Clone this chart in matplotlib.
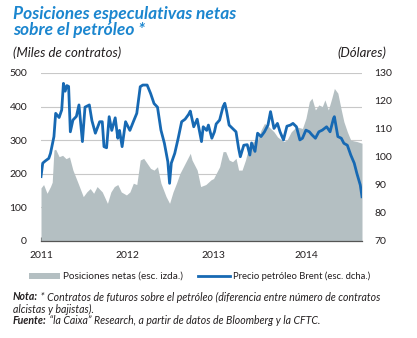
import matplotlib
matplotlib.use("Agg")
import matplotlib.pyplot as plt
from matplotlib.patches import Rectangle
from matplotlib.lines import Line2D

# Posiciones netas (miles de contratos), escala izquierda
pos_x = [2011.00, 2011.03, 2011.07, 2011.11, 2011.13, 2011.15, 2011.17, 2011.21, 2011.25,
         2011.29, 2011.33, 2011.37, 2011.43, 2011.49, 2011.53, 2011.57, 2011.61, 2011.65,
         2011.71, 2011.77, 2011.81, 2011.85, 2011.89, 2011.93, 2011.99, 2012.03, 2012.07,
         2012.11, 2012.15, 2012.19, 2012.23, 2012.27, 2012.31, 2012.35, 2012.39, 2012.45,
         2012.49, 2012.53, 2012.57, 2012.61, 2012.65, 2012.69, 2012.73, 2012.75, 2012.81,
         2012.85, 2012.91, 2012.97, 2013.00, 2013.07, 2013.11, 2013.14, 2013.18, 2013.22,
         2013.26, 2013.29, 2013.33, 2013.37, 2013.40, 2013.44, 2013.48, 2013.51, 2013.55,
         2013.59, 2013.64, 2013.70, 2013.74, 2013.81, 2013.85, 2013.90, 2013.96, 2014.03,
         2014.07, 2014.11, 2014.14, 2014.18, 2014.22, 2014.26, 2014.29, 2014.33, 2014.37,
         2014.40, 2014.44, 2014.48, 2014.51, 2014.55, 2014.59, 2014.66, 2014.72]
pos_y = [158, 168, 142, 162, 175, 271, 273, 251, 255,
         245, 250, 211, 172, 132, 146, 156, 142, 162,
         146, 112, 146, 162, 168, 146, 137, 146, 172,
         168, 241, 246, 231, 216, 211, 221, 172, 132,
         112, 146, 172, 201, 221, 241, 261, 241, 211,
         162, 168, 182, 186, 221, 266, 266, 241, 236,
         246, 211, 211, 241, 271, 291, 300, 300, 330,
         350, 340, 325, 310, 296, 300, 325, 340, 335,
         365, 415, 425, 390, 405, 400, 420, 390, 425,
         454, 440, 390, 355, 325, 300, 296, 291]

# Precio petróleo Brent (dólares), escala derecha
brent_x = [2011.00, 2011.02, 2011.05, 2011.09, 2011.11, 2011.15, 2011.17, 2011.21, 2011.24,
           2011.26, 2011.28, 2011.30, 2011.32, 2011.34, 2011.37, 2011.41, 2011.44, 2011.48,
           2011.51, 2011.56, 2011.59, 2011.63, 2011.68, 2011.71, 2011.73, 2011.76, 2011.79,
           2011.82, 2011.86, 2011.89, 2011.91, 2011.94, 2011.98, 2012.03, 2012.07, 2012.11,
           2012.15, 2012.18, 2012.23, 2012.27, 2012.31, 2012.35, 2012.39, 2012.43, 2012.47,
           2012.49, 2012.51, 2012.55, 2012.59, 2012.63, 2012.67, 2012.71, 2012.73, 2012.77,
           2012.81, 2012.86, 2012.88, 2012.92, 2012.94, 2012.98, 2013.01, 2013.03, 2013.07,
           2013.11, 2013.13, 2013.15, 2013.18, 2013.22, 2013.26, 2013.29, 2013.31, 2013.35,
           2013.39, 2013.42, 2013.44, 2013.48, 2013.51, 2013.55, 2013.59, 2013.63, 2013.66,
           2013.70, 2013.74, 2013.77, 2013.81, 2013.85, 2013.89, 2013.92, 2013.96, 2014.00,
           2014.03, 2014.07, 2014.11, 2014.14, 2014.18, 2014.22, 2014.26, 2014.31, 2014.35,
           2014.39, 2014.40, 2014.44, 2014.48, 2014.51, 2014.55, 2014.59, 2014.63, 2014.66,
           2014.70, 2014.72]
brent_y = [93.0, 97.8, 98.6, 99.5, 101.3, 107.3, 115.6, 114.1, 116.8,
           126.3, 123.5, 125.5, 125.2, 109.0, 113.2, 114.5, 118.6, 105.5,
           117.8, 118.6, 113.0, 108.5, 112.6, 112.6, 103.7, 103.3, 114.4,
           109.5, 114.0, 106.7, 109.5, 103.7, 112.6, 109.5, 112.6, 115.6,
           125.1, 125.7, 125.7, 122.7, 119.1, 117.8, 109.6, 104.9, 98.3,
           90.6, 97.8, 101.3, 106.7, 112.6, 113.5, 115.2, 116.4, 110.8,
           113.5, 105.5, 110.8, 109.5, 111.4, 106.7, 109.0, 111.8, 113.2,
           118.0, 119.2, 116.5, 111.4, 110.2, 109.0, 103.1, 100.1, 104.2,
           104.4, 100.7, 105.0, 102.0, 108.5, 107.3, 109.0, 111.4, 116.2,
           110.2, 112.0, 109.0, 106.1, 111.0, 111.4, 112.0, 110.8, 106.1,
           106.7, 109.6, 109.0, 107.9, 106.7, 109.0, 109.6, 110.8, 109.0,
           113.8, 114.4, 107.3, 106.7, 104.9, 104.2, 100.7, 97.8, 94.2,
           90.0, 85.8]

year_ticks = [2011.0, 2012.0, 2013.0, 2014.07]
year_labels = ["2011", "2012", "2013", "2014"]
left_ticks = [0, 100, 200, 300, 400, 500]
right_ticks = [70, 80, 90, 100, 110, 120, 130]

blue_title = "#1b86cf"
blue_line = "#1769b3"
gray_area = "#b4bfc2"
text_col = "#231f20"

plt.rcParams["font.family"] = ["Lato", "DejaVu Sans"]

fig = plt.figure(figsize=(4.17, 3.38), dpi=100)
ax = fig.add_axes([41/417, 97/338, 321/417, 168/338])
ax2 = ax.twinx()

ax.fill_between(pos_x, pos_y, 0, color=gray_area, lw=0, zorder=2)
ax.set_ylim(0, 500)
ax.set_xlim(2011.0, 2014.72)
ax.set_yticks(left_ticks)
ax.set_yticklabels([str(v) for v in left_ticks], fontsize=7.5, color=text_col)
ax.grid(axis="y", color="#c8c8c8", lw=0.8, zorder=1)
ax.set_axisbelow(True)
ax.set_xticks(year_ticks)
ax.set_xticklabels(year_labels, fontsize=7.5, color=text_col)
ax.tick_params(axis="x", direction="in", length=3, color="#555555", pad=7)
ax.tick_params(axis="y", length=0, pad=10)

ax2.plot(brent_x, brent_y, color=blue_line, lw=2.0, solid_joinstyle="round")
ax2.set_ylim(70, 130)
ax2.set_yticks(right_ticks)
ax2.set_yticklabels([str(v) for v in right_ticks], fontsize=7.5, color=text_col)
ax2.tick_params(axis="y", length=0, pad=9)

for a in (ax, ax2):
    for s in ("top", "left", "right"):
        a.spines[s].set_visible(False)
ax.spines["bottom"].set_color("#555555")
ax.spines["bottom"].set_linewidth(0.9)
ax2.spines["bottom"].set_visible(False)

title_kw = dict(fontsize=12.5, fontweight="bold", fontstyle="italic", color=blue_title,
                va="baseline", ha="left")
fig.text(13/417, 1 - 19.5/338, "Posiciones especulativas netas", **title_kw)
fig.text(13/417, 1 - 35/338, "sobre el petróleo *", **title_kw)
fig.text(13/417, 1 - 53/338, "(Miles de contratos)", fontsize=9.5, fontstyle="italic",
         color=text_col, va="center")
fig.text(386/417, 1 - 53/338, "(Dólares)", fontsize=9.5, fontstyle="italic",
         color=text_col, va="center", ha="right")

# leyenda
fig.add_artist(Rectangle((29/417, 1 - 279/338), 31/417, 6/338,
                         transform=fig.transFigure, color=gray_area, lw=0))
fig.text(63/417, 1 - 276/338, "Posiciones netas (esc. izda.)", fontsize=7.2,
         color=text_col, va="center")
fig.add_artist(Line2D([198/417, 230/417], [1 - 276/338, 1 - 276/338],
                      transform=fig.transFigure, color=blue_line, lw=2.0))
fig.text(233/417, 1 - 276/338, "Precio petróleo Brent (esc. dcha.)", fontsize=6.8,
         color=text_col, va="center")

# notas
fig.canvas.draw()
r = fig.canvas.get_renderer()
note_fs = 7.6


def mixed(x, y, bold, rest):
    t = fig.text(x, y, bold, fontsize=note_fs, fontweight="bold", fontstyle="italic",
                 color=text_col, va="center")
    w = t.get_window_extent(r).width / fig.bbox.width
    fig.text(x + w, y, rest, fontsize=note_fs, fontstyle="italic", color=text_col,
             va="center")


mixed(13/417, 1 - 297/338, "Nota:",
      " * Contratos de futuros sobre el petróleo (diferencia entre número de contratos")
fig.text(13/417, 1 - 309/338, "alcistas y bajistas).", fontsize=note_fs, fontstyle="italic",
         color=text_col, va="center")
mixed(13/417, 1 - 320/338, "Fuente:",
      " \u201cla Caixa\u201d Research, a partir de datos de Bloomberg y la CFTC.")

fig.savefig("out.png", dpi=100)
